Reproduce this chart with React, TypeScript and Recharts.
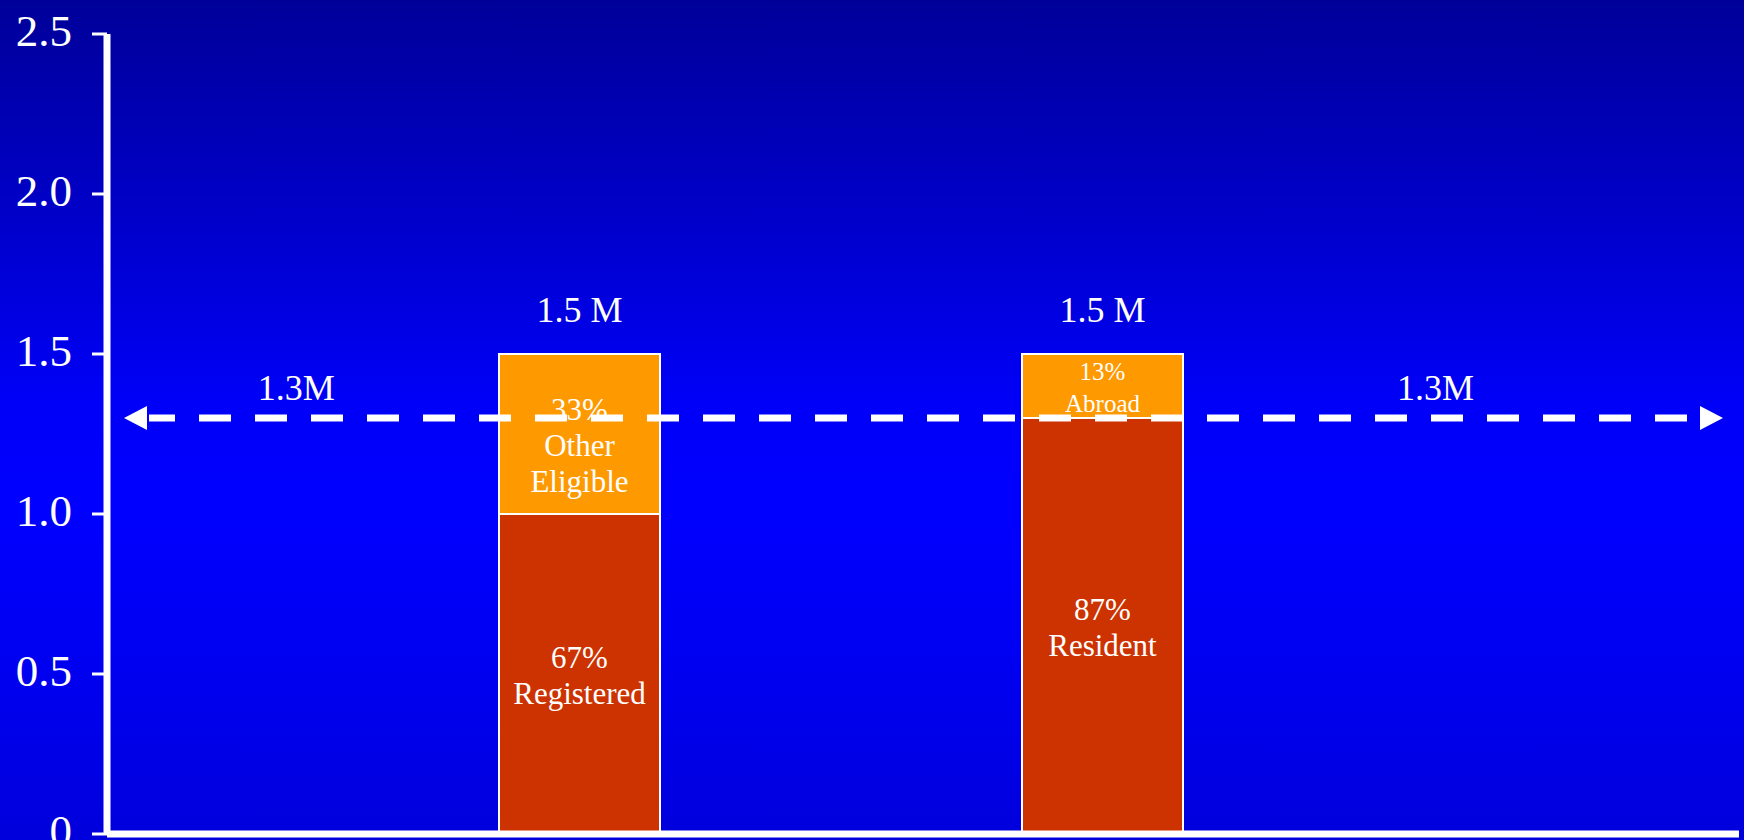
import { BarChart, Bar, XAxis, YAxis, ReferenceLine, LabelList } from "recharts";

const categories = ["Registration", "Residence"];
const baseValues = [1.0, 1.3];
const topValues = [0.5, 0.2];
const totalLabels = ["1.5 M", "1.5 M"];
const baseLabels = [["67%", "Registered"], ["87%", "Resident"]];
const topLabels = [["33%", "Other", "Eligible"], ["13%", "Abroad"]];
const yTicks = [0, 0.5, 1, 1.5, 2, 2.5];
const yTickLabels = ["0", "0.5", "1.0", "1.5", "2.0", "2.5"];
const threshold = 1.3;
const thresholdLabel = "1.3M";

const FONT = '"Liberation Serif", "Times New Roman", serif';
const topFontSizes = [31, 25];
const topLineHeights = [36, 32];
const topShift = [11, 1];

const data = categories.map((name, i) => ({
  name,
  base: baseValues[i],
  top: topValues[i],
}));

function multiLine(
  props: any,
  lines: string[][],
  fontSize: number | number[],
  lineHeight: number | number[],
  shift: number | number[] = 0
) {
  const { x, y, width, height, index } = props;
  const fs = Array.isArray(fontSize) ? fontSize[index] : fontSize;
  const lh = Array.isArray(lineHeight) ? lineHeight[index] : lineHeight;
  const sh = Array.isArray(shift) ? shift[index] : shift;
  const cx = Number(x) + Number(width) / 2;
  const cy = Number(y) + Number(height) / 2 + sh;
  const ls = lines[index];
  const start = cy - ((ls.length - 1) * lh) / 2 + fs * 0.35;
  return (
    <text textAnchor="middle" fill="#fff" fontSize={fs} fontFamily={FONT}>
      {ls.map((l, i) => (
        <tspan key={i} x={cx} y={start + i * lh}>
          {l}
        </tspan>
      ))}
    </text>
  );
}

const TotalLabel = (props: any) => {
  const { x, y, width, index } = props;
  return (
    <text x={Number(x) + Number(width) / 2} y={Number(y) - 32} textAnchor="middle" fill="#fff" fontSize={36} fontFamily={FONT}>
      {totalLabels[index]}
    </text>
  );
};

const ArrowLine = (props: any) => {
  const { x1, x2, y1 } = props;
  const y = Number(y1);
  const left = Number(x1) + 17;
  const right = Number(x2) - 16;
  const head = 23;
  const span = Number(x2) - Number(x1);
  return (
    <g>
      <line
        x1={left + head + 2}
        x2={right - head}
        y1={y}
        y2={y}
        stroke="#fff"
        strokeWidth={7}
        strokeDasharray="32 24"
        strokeDashoffset={6}
      />
      <polygon points={`${left},${y} ${left + head},${y - 12} ${left + head},${y + 12}`} fill="#fff" />
      <polygon points={`${right},${y} ${right - head},${y - 12} ${right - head},${y + 12}`} fill="#fff" />
      <text x={Number(x1) + span * 0.116} y={y - 18} textAnchor="middle" fill="#fff" fontSize={36} fontFamily={FONT}>
        {thresholdLabel}
      </text>
      <text x={Number(x1) + span * 0.814} y={y - 18} textAnchor="middle" fill="#fff" fontSize={36} fontFamily={FONT}>
        {thresholdLabel}
      </text>
    </g>
  );
};

export default function App() {
  return (
    <div
      style={{
        width: 1744,
        height: 840,
        background: "linear-gradient(to bottom, #000099 0%, #0000cc 27%, #0000f8 48%, #0000ff 60%, #0000f0 80%, #0000dc 100%)",
      }}
    >
      <style>{`body{margin:0}`}</style>
      <BarChart width={1744} height={840} data={data} margin={{ top: 34, right: 5, bottom: 0, left: 0 }}>
        <Bar dataKey="base" stackId="a" fill="#cc3300" stroke="#fff" strokeWidth={2} barSize={161} isAnimationActive={false}>
          <LabelList dataKey="base" content={(p: any) => multiLine(p, baseLabels, 31, 36, 1)} />
        </Bar>
        <Bar dataKey="top" stackId="a" fill="#ff9900" stroke="#fff" strokeWidth={2} barSize={161} isAnimationActive={false}>
          <LabelList dataKey="top" content={(p: any) => multiLine(p, topLabels, topFontSizes, topLineHeights, topShift)} />
          <LabelList dataKey="top" content={TotalLabel} />
        </Bar>
        <XAxis
          dataKey="name"
          height={6}
          tick={false}
          tickLine={false}
          axisLine={{ stroke: "#fff", strokeWidth: 7 }}
          padding={{ left: 211, right: 375 }}
        />
        <YAxis
          width={107}
          domain={[0, 2.5]}
          ticks={yTicks}
          interval={0}
          tickSize={15}
          tickMargin={20}
          tickFormatter={(v: number, i: number) => yTickLabels[i] ?? String(v)}
          axisLine={{ stroke: "#fff", strokeWidth: 7 }}
          tickLine={{ stroke: "#fff", strokeWidth: 3 }}
          tick={{ fill: "#fff", fontSize: 45, fontFamily: FONT, dy: -4 }}
        />
        <ReferenceLine y={threshold} shape={ArrowLine} />
      </BarChart>
    </div>
  );
}
